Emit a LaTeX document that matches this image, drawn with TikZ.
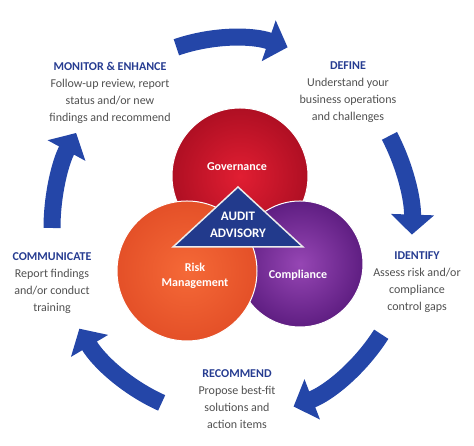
\documentclass[tikz,border=0pt]{standalone}
\usepackage{fontspec}
\setmainfont{Carlito}
\usetikzlibrary{arrows.meta}

\definecolor{arrowblue}{RGB}{36,70,168}
\definecolor{headblue}{RGB}{38,60,145}
\definecolor{bodygray}{RGB}{80,80,80}
\definecolor{triblue}{RGB}{34,58,140}

\tikzset{
  flow/.style={line width=17pt, arrowblue, -{Triangle[width=42pt,length=20pt]}},
  stage/.style={align=center, anchor=north, inner sep=0pt, text=bodygray, font=\fontsize{12}{17}\selectfont},
  ring/.style={draw=white, line width=1pt},
  area/.style={text=white, align=center, font=\bfseries\fontsize{12}{15}\selectfont}
}
\newcommand{\stagehead}[1]{{\color{headblue}\bfseries #1}}

\begin{document}
\begin{tikzpicture}[x=1pt,y=1pt]
 \useasboundingbox (0,0) rectangle (474,446);
 % the three areas
 \shadedraw[ring, inner color={rgb,255:red,225;green,30;blue,50}, outer color={rgb,255:red,175;green,15;blue,35}] (240,270) circle[radius=68];
 \shadedraw[ring, inner color={rgb,255:red,150;green,70;blue,180}, outer color={rgb,255:red,95;green,30;blue,130}] (300,182) circle[radius=63];
 \shadedraw[ring, inner color={rgb,255:red,245;green,105;blue,55}, outer color={rgb,255:red,228;green,80;blue,40}] (187,175) circle[radius=70];
 \filldraw[fill=triblue, draw=white!85!gray, line width=1.5pt] (238,259) -- (173,199) -- (303,199) -- cycle;
 \node[area] (gov) at (237,279) {Governance};
 \node[area] (risk) at (195,170) {Risk\\Management};
 \node[area] (comp) at (298,171) {Compliance};
 \node[area, font=\bfseries\fontsize{13}{17}\selectfont] (audit) at (238,221) {AUDIT\\ADVISORY};
 % cycle arrows
 \coordinate (hub) at (232,218);
 \draw[flow] ([shift={(108:180 and 190)}]hub) arc[start angle=108, end angle=72, x radius=180, y radius=190];
 \draw[flow] ([shift={(29:180 and 190)}]hub) arc[start angle=29, end angle=-2, x radius=180, y radius=190];
 \draw[flow] ([shift={(-34:180 and 190)}]hub) arc[start angle=-34, end angle=-70, x radius=180, y radius=190];
 \draw[flow] ([shift={(-113:180 and 190)}]hub) arc[start angle=-113, end angle=-148, x radius=180, y radius=190];
 \draw[flow] ([shift={(180:180 and 190)}]hub) arc[start angle=180, end angle=150, x radius=180, y radius=190];
 % stages
 \node[stage] (monitor) at (110,384) {\stagehead{MONITOR \& ENHANCE}\\Follow-up review, report\\status and/or new\\findings and recommend};
 \node[stage] (define) at (348,384) {\stagehead{DEFINE}\\Understand your\\business operations\\and challenges};
 \node[stage] (communicate) at (52,194) {\stagehead{COMMUNICATE}\\Report findings\\and/or conduct\\training};
 \node[stage] (identify) at (417,194) {\stagehead{IDENTIFY}\\Assess risk and/or\\compliance\\control gaps};
 \node[stage] (recommend) at (237,77) {\stagehead{RECOMMEND}\\Propose best-fit\\solutions and\\action items};
\end{tikzpicture}
\end{document}
